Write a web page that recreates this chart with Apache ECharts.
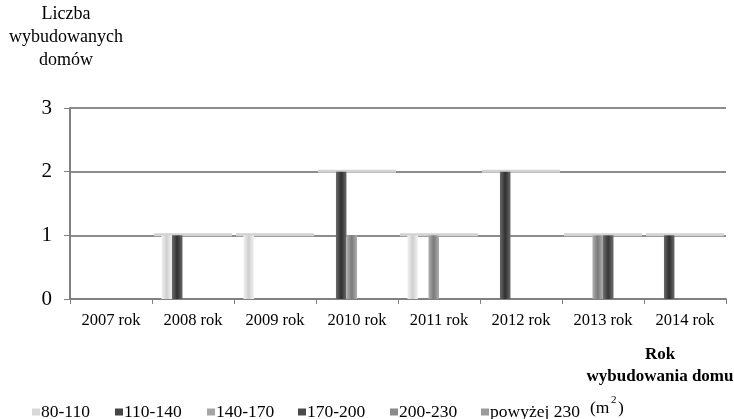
<!DOCTYPE html>
<html>
<head>
<meta charset="utf-8">
<script src="https://cdn.jsdelivr.net/npm/echarts@6/dist/echarts.min.js"></script>
<style>
  html, body { margin: 0; padding: 0; background: #fff; }
  #chart { width: 734px; height: 419px; }
</style>
</head>
<body>
<div id="chart"></div>
<script>
// Years of construction
const years = ['2007 rok', '2008 rok', '2009 rok', '2010 rok', '2011 rok', '2012 rok', '2013 rok', '2014 rok'];
// House size classes (m²)
const sizeClasses = ['80-110', '110-140', '140-170', '170-200', '200-230', 'powyżej 230'];
// Number of houses built per size class
const s80_110   = [0, 1, 1, 0, 1, 0, 0, 0];
const s110_140  = [0, 1, 0, 2, 0, 2, 0, 1];
const s140_170  = [0, 0, 0, 1, 1, 0, 1, 0];
const s170_200  = [0, 0, 0, 0, 0, 0, 1, 0];
const s200_230  = [0, 0, 0, 0, 0, 0, 0, 0];
const sOver230  = [0, 0, 0, 0, 0, 0, 0, 0];
const yTicks = [0, 1, 2, 3];

const seriesValues = [s80_110, s110_140, s140_170, s170_200, s200_230, sOver230];
// tallest bar in each year, used for the soft highlight along the gridline
const yearMax = years.map((_, k) => Math.max(...seriesValues.map(s => s[k])));

// [edge colour, centre colour] for a soft cylindrical shading
const shades = [
  ['#f2f2f2', '#cfcfcf'],
  ['#6a6a6a', '#303030'],
  ['#b0b0b0', '#7a7a7a'],
  ['#707070', '#383838'],
  ['#a8a8a8', '#707070'],
  ['#b4b4b4', '#828282']
];
const legendColors = ['#d8d8d8', '#454545', '#a6a6a6', '#4a4a4a', '#8a8a8a', '#9a9a9a'];
// left edge of each legend entry
const legendLeft = [27, 110, 202, 293, 385, 476];

function grad(c) {
  return new echarts.graphic.LinearGradient(0, 0, 1, 0, [
    { offset: 0, color: c[0] },
    { offset: 0.5, color: c[1] },
    { offset: 1, color: c[0] }
  ]);
}

const serif = '"Liberation Serif", "DejaVu Serif", serif';
const txt = (text, x, y, size, extra) => ({
  type: 'text', x, y,
  style: Object.assign({ text, fontFamily: serif, fontSize: size, fill: '#000' }, extra || {})
});

const barSeries = seriesValues.map((vals, i) => ({
  name: sizeClasses[i],
  type: 'bar',
  data: vals,
  barGap: '0%',
  barCategoryGap: '23%',
  z: 3,
  itemStyle: { color: grad(shades[i]) }
}));

// pale band across each year at the height of its tallest bar
const glowSeries = {
  type: 'custom',
  name: 'glow',
  silent: true,
  z: 2,
  data: yearMax.map((v, k) => [k, v]),
  renderItem: function (params, api) {
    const v = api.value(1);
    if (!v) return null;
    const p = api.coord([api.value(0), v]);
    const w = api.size([1, 0])[0];
    return {
      type: 'rect',
      shape: { x: p[0] - w / 2 + 2, y: p[1] - 2, width: w - 4, height: 3 },
      style: { fill: '#d2d2d2' }
    };
  }
};

const chart = echarts.init(document.getElementById('chart'), null, { renderer: 'canvas' });
chart.setOption({
  animation: false,
  backgroundColor: '#fff',
  grid: { left: 70, right: 8, top: 108, bottom: 120, containLabel: false },
  legend: sizeClasses.map((n, i) => ({
    left: legendLeft[i], top: 398,
    itemWidth: 8, itemHeight: 7, itemGap: 0,
    icon: 'rect',
    textStyle: { fontFamily: serif, fontSize: 17.5, color: '#000', padding: [0, 0, 0, -4] },
    data: [{ name: n, itemStyle: { color: legendColors[i] } }]
  })),
  xAxis: {
    type: 'category',
    data: years,
    axisLine: { lineStyle: { color: '#808080', width: 2 } },
    axisTick: { show: true, length: 5, lineStyle: { color: '#808080', width: 1 } },
    axisLabel: { fontFamily: serif, fontSize: 16.5, color: '#000', margin: 13 }
  },
  yAxis: {
    type: 'value',
    min: yTicks[0], max: yTicks[yTicks.length - 1], interval: 1,
    axisLine: { show: true, lineStyle: { color: '#808080', width: 2 } },
    axisTick: { show: true, length: 6, lineStyle: { color: '#808080', width: 1 } },
    axisLabel: { fontFamily: serif, fontSize: 21, color: '#000', margin: 18 },
    splitLine: { lineStyle: { color: '#8c8c8c', width: 2 } }
  },
  series: [glowSeries].concat(barSeries),
  graphic: [
    txt('Liczba', 66, 5, 18, { align: 'center' }),
    txt('wybudowanych', 66, 28, 18, { align: 'center' }),
    txt('domów', 66, 51, 18, { align: 'center' }),
    txt('Rok', 660, 346, 17, { align: 'center', fontWeight: 'bold' }),
    txt('wybudowania domu', 660, 368, 17, { align: 'center', fontWeight: 'bold' }),
    txt('(m', 590, 399, 17.5),
    txt('2', 611, 395, 11),
    txt(')', 618, 399, 17.5)
  ]
});
</script>
</body>
</html>
